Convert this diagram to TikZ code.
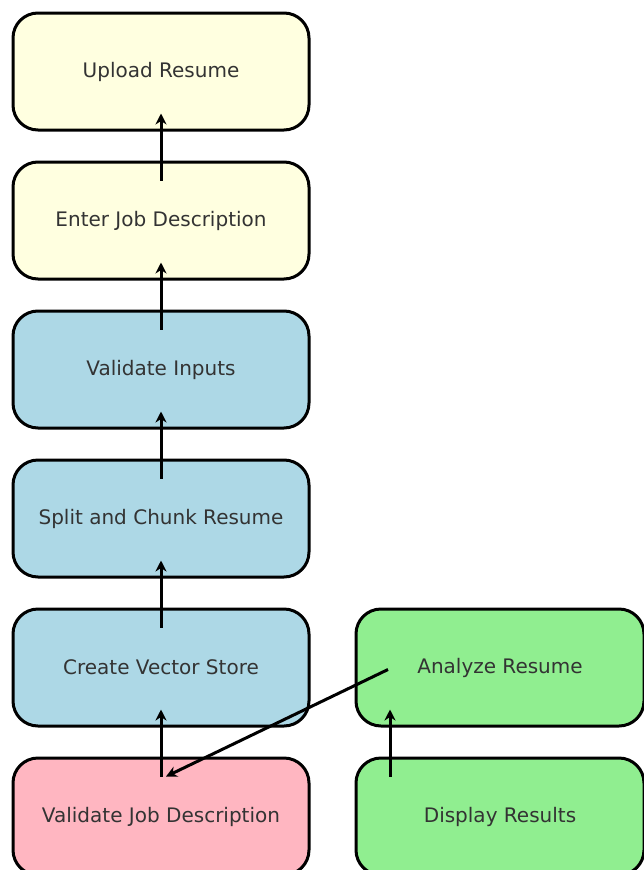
\documentclass[tikz,border=0pt]{standalone}
\usepackage{fontspec}
\setmainfont{DejaVu Sans}
\usetikzlibrary{arrows.meta}

\definecolor{inputyellow}{HTML}{FFFFE0}
\definecolor{procblue}{HTML}{ADD8E6}
\definecolor{errpink}{HTML}{FFB6C1}
\definecolor{outgreen}{HTML}{90EE90}

\begin{document}
\begin{tikzpicture}[x=1pt, y=1pt, node distance={149pt}, line width=3pt,
    stage/.style = {draw, rectangle, rounded corners=25pt, minimum width=296pt, minimum height=117pt, text=black!80, font=\fontsize{20}{24}\selectfont},
    link/.style = {-{Stealth[length=11pt, width=11pt]}}]
    \fill[white] (0,0) rectangle (644,-870);
    \useasboundingbox (0,0) rectangle (644,-870);

    \node[stage, fill=inputyellow] (upload) at (161,-71.5) {Upload Resume};
    \node[stage, fill=inputyellow] (enter) [below of=upload] {Enter Job Description};
    \node[stage, fill=procblue] (check) [below of=enter] {Validate Inputs};
    \node[stage, fill=procblue] (split) [below of=check] {Split and Chunk Resume};
    \node[stage, fill=procblue] (store) [below of=split] {Create Vector Store};
    \node[stage, fill=errpink] (checkjd) [below of=store] {Validate Job Description};
    \node[stage, fill=outgreen, minimum width=288pt] (analyze) [right of=store, node distance=339pt] {Analyze Resume};
    \node[stage, fill=outgreen, minimum width=288pt] (show) [below of=analyze] {Display Results};

    \draw[link] ([yshift=40pt]enter.center) -- ([yshift=-42pt]upload.center);
    \draw[link] ([yshift=40pt]check.center) -- ([yshift=-42pt]enter.center);
    \draw[link] ([yshift=40pt]split.center) -- ([yshift=-42pt]check.center);
    \draw[link] ([yshift=40pt]store.center) -- ([yshift=-42pt]split.center);
    \draw[link] ([yshift=40pt]checkjd.center) -- ([yshift=-42pt]store.center);
    \draw[link] ([xshift=-110pt, yshift=40pt]show.center) -- ([xshift=-110pt, yshift=-42pt]analyze.center);
    \draw[link] ([xshift=-112pt, yshift=-2pt]analyze.center) -- ([xshift=5pt, yshift=40pt]checkjd.center);
\end{tikzpicture}
\end{document}
